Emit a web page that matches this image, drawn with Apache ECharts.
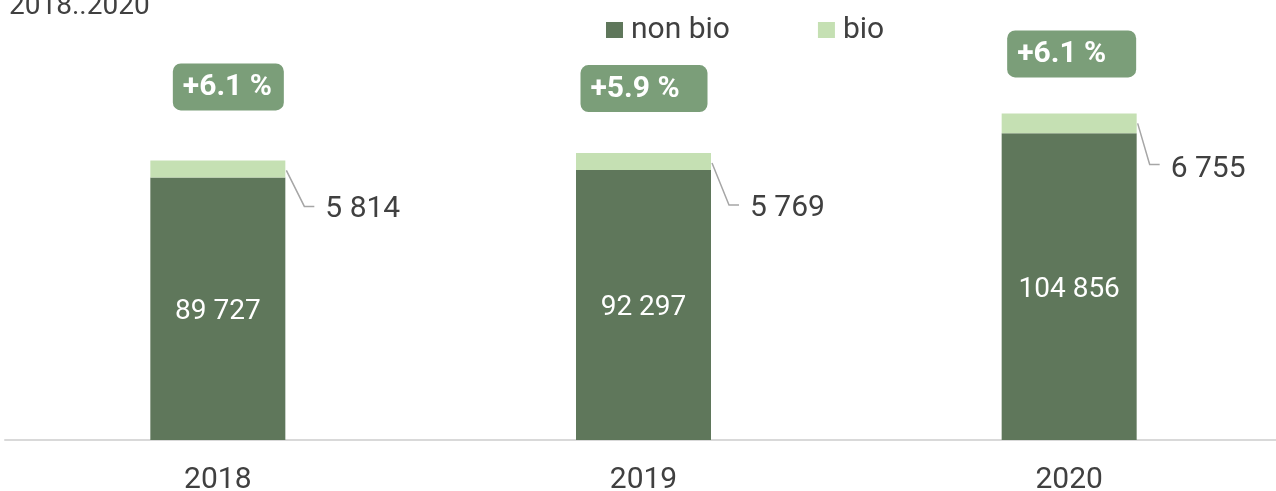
<!DOCTYPE html>
<html>
<head>
<meta charset="utf-8">
<script src="https://cdn.jsdelivr.net/npm/echarts@6/dist/echarts.min.js"></script>
<style>html,body{margin:0;padding:0;background:#fff}#c{width:1276px;height:491px}</style>
</head>
<body>
<div id="c"></div>
<script>
const categories = ['2018', '2019', '2020'];
const nonBio = [89727, 92297, 104856];
const bio = [5814, 5769, 6755];
const growth = ['+6.1 %', '+5.9 %', '+6.1 %'];
const titleText = '2018..2020';

const fmt = v => String(v).replace(/\B(?=(\d{3})+(?!\d))/g, ' ');
const FONT = 'Roboto';
const TXT = '#404040';
const labelDx = [40, 39, 34];
const labelDy = [41, 47, 46];

const chart = echarts.init(document.getElementById('c'));
const option = {
  animation: false,
  textStyle: { fontFamily: FONT },
  title: { text: titleText, left: 9, top: -7, padding: 0,
    textStyle: { fontFamily: FONT, fontSize: 28, fontWeight: 'normal', color: TXT } },
  legend: { left: 601, top: 10, icon: 'rect', itemWidth: 17, itemHeight: 16, itemGap: 88,
    textStyle: { fontFamily: FONT, fontSize: 30, color: TXT, padding: [0, 0, 0, 3] },
    data: ['non bio', 'bio'] },
  grid: { left: 5, width: 1277, top: 4, bottom: 51, containLabel: false, outerBoundsMode: 'none' },
  xAxis: { type: 'category', data: categories,
    axisLine: { lineStyle: { color: '#d9d9d9', width: 2 } },
    axisTick: { show: false },
    axisLabel: { fontFamily: FONT, fontSize: 30, color: TXT, margin: 25 } },
  yAxis: { type: 'value', min: 0, max: 149000, show: false, splitLine: { show: false } },
  series: [
    { name: 'non bio', type: 'bar', stack: 'a', data: nonBio, barWidth: 135,
      itemStyle: { color: '#5f775b' },
      label: { show: true, position: 'inside', offset: [0, 3], formatter: p => fmt(p.value),
        fontFamily: FONT, fontSize: 28, color: '#ffffff' } },
    { name: 'bio', type: 'bar', stack: 'a', barWidth: 135,
      data: bio.map((v, i) => ({ value: v, label: { offset: [labelDx[i], labelDy[i]] } })),
      itemStyle: { color: '#c5e0b3' },
      label: { show: true, position: 'right', distance: 0,
        formatter: p => fmt(p.value), fontFamily: FONT, fontSize: 30, color: TXT } }
  ]
};
chart.setOption(option);

// leader lines and growth badges
const graphics = [];
const badgeOffsets = [[-45, -97, 111], [-63, -88, 127], [-62, -83, 129]];
categories.forEach((c, i) => {
  const top = chart.convertToPixel({ gridIndex: 0 }, [i, nonBio[i] + bio[i]]);
  const right = top[0] + 67.5;
  const y0 = top[1];
  const ly = y0 + 9 + labelDy[i] - 4;
  const lx = right + labelDx[i];
  graphics.push({ type: 'polyline', silent: true,
    shape: { points: [[right + 1, y0 + 10], [lx - 21, ly], [lx - 11, ly]] },
    style: { stroke: '#a6a6a6', lineWidth: 1.5, fill: null } });
  const b = badgeOffsets[i];
  const bx = top[0] + b[0], by = y0 + b[1];
  graphics.push({ type: 'rect', silent: true,
    shape: { x: bx, y: by, width: b[2], height: 47, r: 8 },
    style: { fill: '#7b9e79' } });
  graphics.push({ type: 'text', silent: true, x: bx + 10, y: by + 24,
    style: { text: growth[i], fill: '#ffffff', font: 'bold 30px Roboto',
      verticalAlign: 'middle', align: 'left' } });
});
chart.setOption({ graphic: graphics });
</script>
</body>
</html>
